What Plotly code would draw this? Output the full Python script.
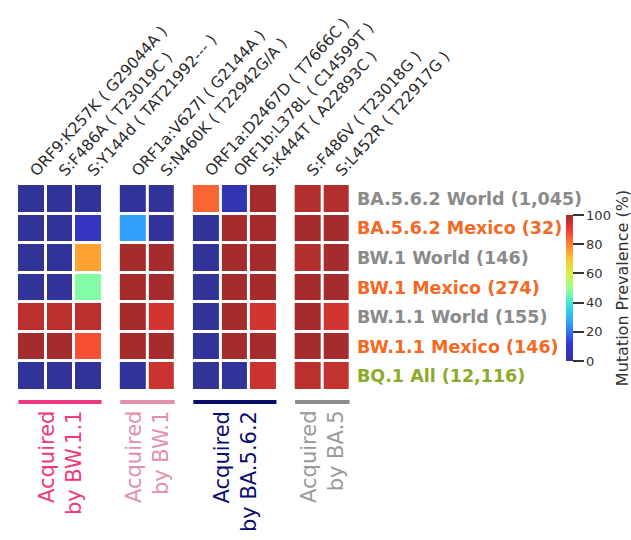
import plotly.graph_objects as go

# Lineage / region rows (top to bottom) and their label colours
row_labels = [
    "BA.5.6.2 World (1,045)",
    "BA.5.6.2 Mexico (32)",
    "BW.1 World (146)",
    "BW.1 Mexico (274)",
    "BW.1.1 World (155)",
    "BW.1.1 Mexico (146)",
    "BQ.1 All (12,116)",
]
row_colors = ["#8a8a8a", "#f26a24", "#8a8a8a", "#f26a24", "#8a8a8a", "#f26a24", "#8aab2c"]

# Mutations, grouped by the lineage that acquired them
muts_bw11 = ["ORF9:K257K ( G29044A )", "S:F486A ( T23019C )", "S:Y144d ( TAT21992--- )"]
muts_bw1 = ["ORF1a:V627I ( G2144A )", "S:N460K ( T22942G/A )"]
muts_ba562 = ["ORF1a:D2467D ( T7666C )", "ORF1b:L378L ( C14599T )", "S:K444T ( A22893C )"]
muts_ba5 = ["S:F486V ( T23018G )", "S:L452R ( T22917G )"]

# Mutation prevalence (%) — one row per lineage/region, one column per mutation
prev_bw11 = [
    [0, 0, 0],
    [0, 0, 7],
    [0, 0, 75],
    [0, 0, 47],
    [97, 97, 97],
    [100, 100, 87],
    [0, 0, 0],
]
prev_bw1 = [
    [0, 0],
    [26, 0],
    [100, 100],
    [100, 100],
    [100, 94],
    [100, 100],
    [0, 95],
]
prev_ba562 = [
    [84, 4, 100],
    [0, 100, 100],
    [0, 100, 100],
    [0, 100, 100],
    [0, 100, 94],
    [0, 100, 100],
    [0, 0, 95],
]
prev_ba5 = [
    [98, 98],
    [100, 100],
    [98, 100],
    [100, 100],
    [100, 94],
    [100, 100],
    [97, 96],
]

group_names = ["Acquired<br>by BW.1.1", "Acquired<br>by BW.1", "Acquired<br>by BA.5.6.2", "Acquired<br>by BA.5"]
group_colors = ["#f0387c", "#e390ad", "#0c0c6e", "#8c8c8c"]
group_text_colors = ["#f0387c", "#e390ad", "#0c0c6e", "#9a9a9a"]

# column centres (groups separated by a spacer)
group_x = [
    [0, 1, 2],
    [3.55, 4.55],
    [6.1, 7.1, 8.1],
    [9.65, 10.65],
]
group_muts = [muts_bw11, muts_bw1, muts_ba562, muts_ba5]
group_vals = [prev_bw11, prev_bw1, prev_ba562, prev_ba5]

colorscale = [
    [0.0, "#323399"],
    [0.12, "#3436dd"],
    [0.25, "#3399ff"],
    [0.37, "#33dde0"],
    [0.48, "#8cffa0"],
    [0.6, "#d6f040"],
    [0.7, "#ffc233"],
    [0.8, "#ff8233"],
    [0.9, "#f03a33"],
    [1.0, "#a42c2c"],
]

fig = go.Figure()
rows = list(range(len(row_labels)))
for xs, vals in zip(group_x, group_vals):
    fig.add_trace(go.Heatmap(
        z=vals, x=xs, y=rows, coloraxis="coloraxis",
        xgap=3, ygap=3, hoverongaps=False,
    ))

# group underline bars and labels
for xs, name, lc, tc in zip(group_x, group_names, group_colors, group_text_colors):
    fig.add_shape(type="line", xref="x", yref="paper",
                  x0=xs[0] - 0.45, x1=xs[-1] + 0.45, y0=-0.053, y1=-0.053,
                  line=dict(color=lc, width=4))
    fig.add_annotation(x=(xs[0] + xs[-1]) / 2, y=-0.085, xref="x", yref="paper",
                       text=name, textangle=-90, showarrow=False,
                       xanchor="center", yanchor="top", align="right",
                       font=dict(size=21, color=tc, family="DejaVu Sans"))

tickvals = [x for xs in group_x for x in xs]
ticktext = [m for ms in group_muts for m in ms]
ytext = [f'<span style="color:{c}"><b>{t}</b></span>' for t, c in zip(row_labels, row_colors)]

fig.update_layout(
    width=631, height=540,
    margin=dict(l=17, r=280, t=184, b=149, autoexpand=False),
    paper_bgcolor="white", plot_bgcolor="white",
    font=dict(family="DejaVu Sans", color="#333333"),
    xaxis=dict(side="top", range=[-0.5, 11.15], tickvals=tickvals, ticktext=ticktext,
               tickangle=-48, showgrid=False, zeroline=False, showline=False, ticks="",
               tickfont=dict(size=15.5, color="#2a2a2a")),
    yaxis=dict(side="right", range=[6.5, -0.5], tickvals=rows, ticktext=ytext,
               showgrid=False, zeroline=False, showline=False, ticks="",
               ticklabelstandoff=5, tickfont=dict(size=17.5)),
    coloraxis=dict(
        cmin=0, cmax=100, colorscale=colorscale,
        colorbar=dict(
            x=1.644, xanchor="left", xpad=0, y=0.4976, yanchor="middle", ypad=0,
            len=146, lenmode="pixels", thickness=7, outlinewidth=0,
            ticks="outside", ticklen=11, tickwidth=1.5, tickcolor="#333333",
            tickvals=[0, 20, 40, 60, 80, 100],
            tickfont=dict(size=13, color="#333333"),
            title=dict(text="Mutation Prevalence (%)", side="right",
                       font=dict(size=16, color="#333333")),
        ),
    ),
    showlegend=False,
)

fig.write_html("out.html")
